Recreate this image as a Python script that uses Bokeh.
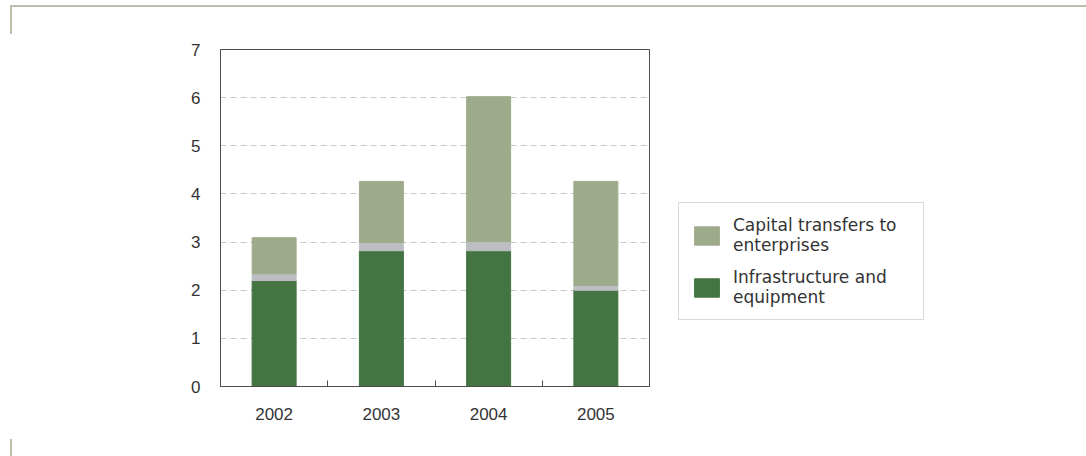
import numpy as np
from bokeh.plotting import figure
from bokeh.models import (ColumnDataSource, FixedTicker, Range1d, Legend,
                          LegendItem, InlineStyleSheet)
from bokeh.embed import file_html
from bokeh.resources import INLINE

# Capital expenditure by year (stacked)
years = ["2002", "2003", "2004", "2005"]
infrastructure = [2.20, 2.82, 2.82, 2.00]
other = [0.14, 0.17, 0.19, 0.10]
capital_transfers = [0.75, 1.27, 3.01, 2.16]
y_ticks = [0, 1, 2, 3, 4, 5, 6, 7]

colors = ["#437441", "#bdbec3", "#9eab8b"]
TICK_FONT = "Liberation Sans"
LEGEND_FONT = "DejaVu Sans"
TEXT = "#333333"

x = np.arange(len(years)) + 0.5
src = ColumnDataSource(dict(x=x, infrastructure=infrastructure, other=other,
                            capital=capital_transfers))

p = figure(frame_width=429, frame_height=337, output_backend="svg",
           toolbar_location=None,
           x_range=Range1d(0, len(years)), y_range=Range1d(0, 7),
           min_border_left=220, min_border_right=160,
           min_border_top=49, min_border_bottom=70)

# decorative page frame (corner brackets)
p.stylesheets = [InlineStyleSheet(css="""
:host { position: relative; }
:host::before {
  content: ""; position: absolute; left: 10px; top: 5px; width: 1076px; height: 27px;
  border-top: 2px solid #b7c2a8; border-left: 2px solid #b7c2a8;
  pointer-events: none; z-index: 10;
}
:host::after {
  content: ""; position: absolute; left: 10px; bottom: 0px; height: 17px;
  border-left: 2px solid #b7c2a8; pointer-events: none; z-index: 10;
}
""")]

p.outline_line_color = "#4d4d4d"
p.outline_line_width = 1
p.background_fill_color = "white"
p.border_fill_color = "white"

p.xgrid.grid_line_color = None
p.ygrid.grid_line_color = "#c8c8c8"
p.ygrid.grid_line_dash = "6 4"
p.ygrid.ticker = FixedTicker(ticks=y_ticks[1:-1])

renderers = p.vbar_stack(["infrastructure", "other", "capital"], x="x", width=0.41,
                         color=colors, source=src)

# x axis: year labels at bar centres, inner ticks at category boundaries
xa = p.xaxis[0]
xa.ticker = FixedTicker(ticks=list(x), minor_ticks=list(np.arange(1, len(years))))
xa.major_label_overrides = {float(v): y for v, y in zip(x, years)}
xa.major_tick_in = 0
xa.major_tick_out = 0
xa.minor_tick_in = 6
xa.minor_tick_out = 0
xa.minor_tick_line_color = "#4d4d4d"
xa.axis_line_color = "#4d4d4d"
xa.major_label_standoff = 21
xa.major_label_text_font = TICK_FONT
xa.major_label_text_font_size = "17px"
xa.major_label_text_color = TEXT

ya = p.yaxis[0]
ya.ticker = FixedTicker(ticks=y_ticks)
ya.major_tick_in = 0
ya.major_tick_out = 0
ya.minor_tick_line_color = None
ya.axis_line_color = "#4d4d4d"
ya.major_label_standoff = 20
ya.major_label_text_font = TICK_FONT
ya.major_label_text_font_size = "17px"
ya.major_label_text_color = TEXT

legend = Legend(items=[
    LegendItem(label="Capital transfers to\nenterprises", renderers=[renderers[2]]),
    LegendItem(label="Infrastructure and\nequipment", renderers=[renderers[0]]),
], location=(29, 66))
legend.glyph_width = 31
legend.glyph_height = 23
legend.label_standoff = 11
legend.label_width = 178
legend.padding = 12
legend.spacing = 12
legend.margin = 0
legend.border_line_color = "#b3b3b3"
legend.border_line_width = 1
legend.label_text_font = LEGEND_FONT
legend.label_text_font_size = "17px"
legend.label_text_color = TEXT
legend.label_text_line_height = 1.2
legend.background_fill_alpha = 1
p.add_layout(legend, "right")

open("out.html", "w").write(file_html(p, INLINE))
